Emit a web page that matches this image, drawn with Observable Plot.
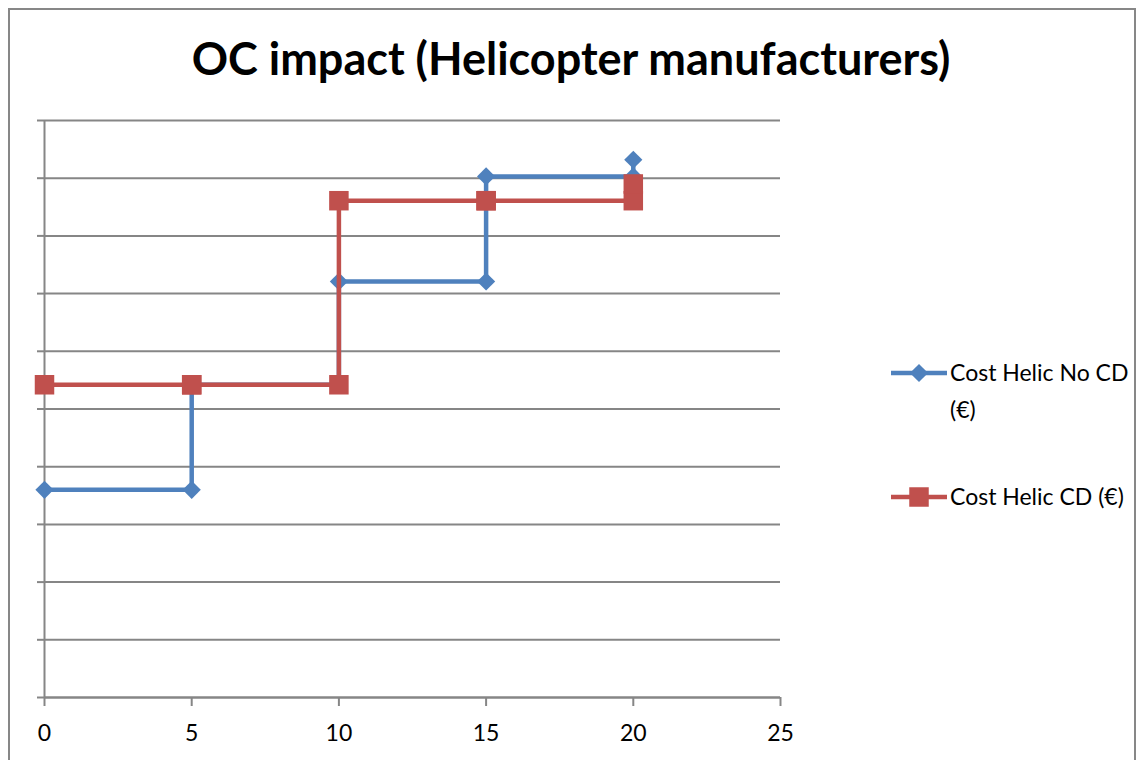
<!DOCTYPE html>
<html>
<head>
<meta charset="utf-8">
<script src="https://cdn.jsdelivr.net/npm/d3@7"></script>
<script src="https://cdn.jsdelivr.net/npm/@observablehq/plot@0.6"></script>
<style>
  html, body { margin: 0; padding: 0; background: #fff; overflow: hidden; }
  body { width: 1138px; height: 760px; position: relative; font-family: Lato, "Open Sans", sans-serif; }
  #frame { position: absolute; left: 8px; top: 8px; width: 1124px; height: 800px; border: 2px solid #878787; }
  #title { position: absolute; left: 0; top: 31px; width: 1142px; text-align: center; font-weight: bold; font-size: 45px; color: #000; }
  #chart { position: absolute; left: 0; top: 100px; }
  .leg { position: absolute; font-size: 23px; color: #000; line-height: 37px; }
  .leg svg { position: absolute; }
</style>
</head>
<body>
<div id="frame"></div>
<div id="title">OC impact (Helicopter manufacturers)</div>
<div id="chart"></div>
<div id="legend"></div>
<script>
// Data (step series; x repeats to form vertical steps)
const xValues = [0, 5, 5, 10, 10, 15, 15, 20, 20];
const noCD = [3.6, 3.6, 5.42, 5.42, 7.21, 7.21, 9.03, 9.03, 9.32];
const withCD = [5.42, 5.42, 5.42, 5.42, 8.61, 8.61, 8.61, 8.61, 8.9];
const seriesNames = ["Cost Helic No CD (€)", "Cost Helic CD (€)"];
const seriesColors = ["#4F81BD", "#C0504D"];
const xTicks = [0, 5, 10, 15, 20, 25];
const yTicks = [0, 1, 2, 3, 4, 5, 6, 7, 8, 9, 10];

const blue = xValues.map((x, i) => ({x, y: noCD[i]}));
const red = xValues.map((x, i) => ({x, y: withCD[i]}));

const grid = "#868686";
const chart = Plot.plot({
  width: 1138,
  height: 660,
  marginLeft: 44,
  marginRight: 358,
  marginTop: 20,
  marginBottom: 63,
  style: {fontFamily: "Lato, 'Open Sans', sans-serif", fontSize: "23px", color: "#000", background: "transparent"},
  x: {domain: [0, 25]},
  y: {domain: [0, 10]},
  marks: [
    Plot.gridY(yTicks, {stroke: grid, strokeOpacity: 1, strokeWidth: 2}),
    Plot.axisY(yTicks, {tickSize: 7, tickFormat: () => "", stroke: grid, strokeWidth: 2, label: null}),
    Plot.ruleX([0], {stroke: grid, strokeWidth: 2}),
    Plot.ruleY([0], {stroke: grid, strokeWidth: 2}),
    Plot.axisX(xTicks, {tickSize: 9, tickPadding: 18, stroke: grid, strokeWidth: 2, fill: "#000", label: null, fontSize: 23}),
    Plot.line(blue, {x: "x", y: "y", stroke: seriesColors[0], strokeWidth: 4.5, curve: "linear"}),
    Plot.dot(blue, {x: "x", y: "y", symbol: "diamond2", r: 8.2, fill: seriesColors[0], stroke: "none"}),
    Plot.line(red, {x: "x", y: "y", stroke: seriesColors[1], strokeWidth: 4.5, curve: "linear"}),
    Plot.dot(red, {x: "x", y: "y", symbol: "square", r: 11, fill: seriesColors[1], stroke: "none"})
  ]
});
document.getElementById("chart").appendChild(chart);

// Legend
const legend = document.getElementById("legend");
const legendItems = [
  {name: seriesNames[0], color: seriesColors[0], symbol: d3.symbolDiamond2, size: Math.PI * 8.2 * 8.2, top: 354, lines: ["Cost Helic No CD", "(€)"]},
  {name: seriesNames[1], color: seriesColors[1], symbol: d3.symbolSquare, size: Math.PI * 11 * 11, top: 478, lines: ["Cost Helic CD (€)"]}
];
legendItems.forEach(item => {
  const sw = d3.create("svg").attr("width", 60).attr("height", 30)
    .style("position", "absolute").style("left", "889px").style("top", (item.top + 4) + "px");
  sw.append("line").attr("x1", 2).attr("x2", 58).attr("y1", 15).attr("y2", 15)
    .attr("stroke", item.color).attr("stroke-width", 4.5);
  sw.append("path").attr("d", d3.symbol(item.symbol, item.size)()).attr("transform", "translate(30,15)").attr("fill", item.color);
  legend.appendChild(sw.node());
  const t = document.createElement("div");
  t.className = "leg";
  t.style.left = "950px";
  t.style.top = item.top + "px";
  t.innerHTML = item.lines.join("<br>");
  legend.appendChild(t);
});
</script>
</body>
</html>
